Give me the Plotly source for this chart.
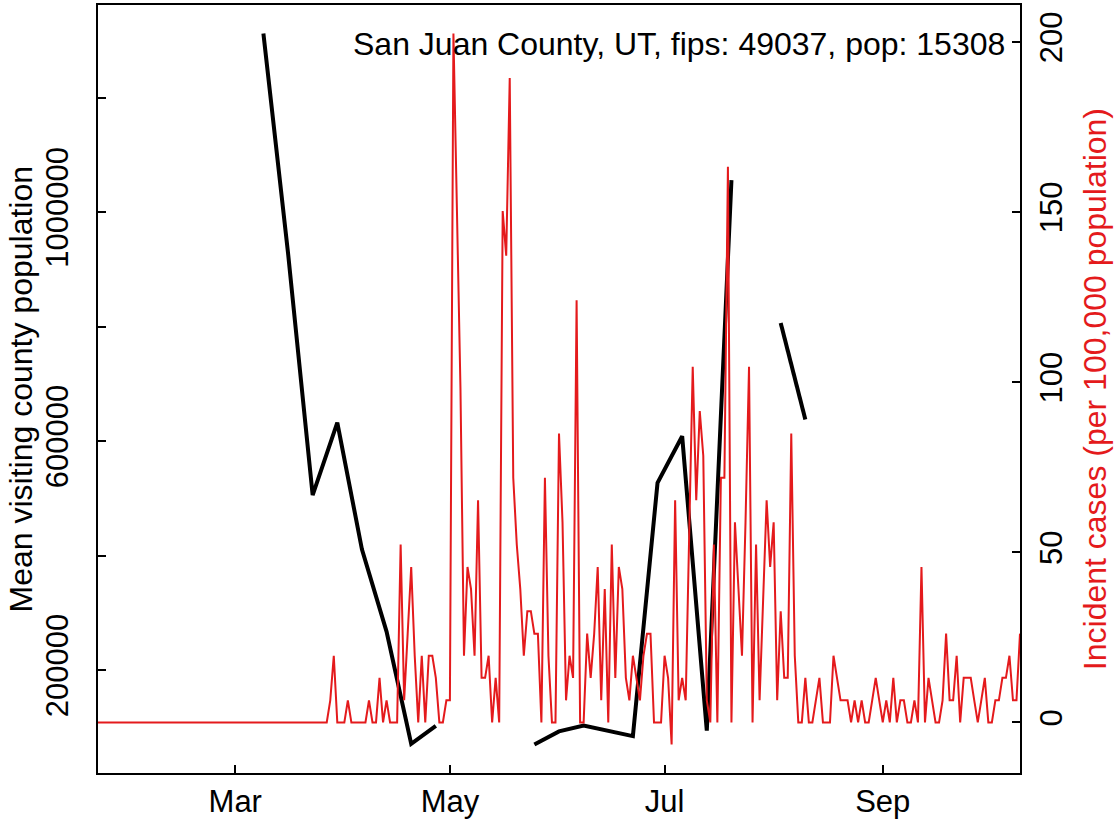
import pandas as pd
import plotly.graph_objects as go

# weekly mean visiting county population (None = missing week)
visit_dates = ['2020-03-09', '2020-03-16', '2020-03-23', '2020-03-30', '2020-04-06',
               '2020-04-13', '2020-04-20', '2020-04-27', '2020-05-04', '2020-05-11',
               '2020-05-18', '2020-05-25', '2020-06-01', '2020-06-08', '2020-06-15',
               '2020-06-22', '2020-06-29', '2020-07-06', '2020-07-13', '2020-07-20',
               '2020-07-27', '2020-08-03', '2020-08-10']
visit_pop = [1312079, 928619, 505593, 632309, 410948,
             267141, 71063, 102437, None, None,
             None, 69843, 92851, 102960, 93722,
             84484, 527184, 608430, 94303, 1055858,
             None, 806086, 637538]

# daily incident cases per 100,000 population, 2020-01-22 .. 2020-10-10
case_start = '2020-01-22'
incident = [
    0, 0, 0, 0, 0, 0, 0, 0, 0, 0, 0, 0, 0,
    0, 0, 0, 0, 0, 0, 0, 0, 0, 0, 0, 0, 0,
    0, 0, 0, 0, 0, 0, 0, 0, 0, 0, 0, 0, 0,
    0, 0, 0, 0, 0, 0, 0, 0, 0, 0, 0, 0, 0,
    0, 0, 0, 0, 0, 0, 0, 0, 0, 0, 0, 0, 0,
    0, 6.5, 19.6, 0, 0, 0, 6.5, 0, 0, 0, 0, 0, 6.5, 0,
    0, 13.1, 0, 6.5, 0, 0, 0, 52.3, 6.5, 26.1,
    45.7, 19.6, 0, 19.6, 0, 19.6, 19.6, 13.1, 0, 0,
    6.5, 6.5, 202.5, 150.3, 98.0, 19.6, 45.7, 39.2, 19.6, 65.3,
    13.1, 13.1, 19.6, 0, 13.1, 0, 150.3, 137.2, 189.4, 71.9,
    52.3, 39.2, 19.6, 32.7, 32.7, 26.1, 26.1, 0, 71.9, 19.6,
    0, 0, 84.9, 58.8, 6.5, 19.6, 13.1, 124.1, 0, 0,
    26.1, 13.1, 26.1, 45.7, 6.5, 39.2, 0, 52.3, 13.1, 45.7,
    39.2, 13.1, 6.5, 19.6, 13.1, 6.5, 19.6, 26.1, 26.1, 0,
    0, 0, 19.6, 13.1, -6.5, 65.3, 6.5, 13.1, 6.5, 58.8,
    104.5, 65.3, 91.5, 78.4, 6.5, 0, 52.3, 0, 71.9, 71.9,
    163.3, 0, 58.8, 39.2, 19.6, 58.8, 104.5, 0, 52.3, 6.5,
    39.2, 65.3, 45.7, 58.8, 6.5, 32.7, 13.1, 13.1, 84.9, 19.6,
    0, 0, 13.1, 0, 0, 6.5, 13.1, 0, 0, 0,
    19.6, 13.1, 6.5, 6.5, 6.5, 0, 6.5, 0, 6.5, 0,
    0, 6.5, 13.1, 6.5, 0, 6.5, 0, 13.1, 0, 6.5,
    6.5, 0, 0, 6.5, 0, 45.7, 0, 13.1, 6.5, 0,
    0, 6.5, 26.1, 6.5, 6.5, 19.6, 0, 13.1, 13.1, 13.1,
    6.5, 0, 6.5, 13.1, 0, 0, 6.5, 6.5, 13.1, 13.1,
    19.6, 6.5, 6.5, 26.1,
]
case_dates = pd.date_range(case_start, periods=len(incident), freq='D')

month_ticks = ['2020-03-01', '2020-05-01', '2020-07-01', '2020-09-01']
month_labels = ['Mar', 'May', 'Jul', 'Sep']
pop_ticks = [200000, 400000, 600000, 800000, 1000000, 1200000]
pop_labels = ['200000', '', '600000', '', '1000000', '']
case_ticks = [0, 50, 100, 150, 200]

title_text = 'San Juan County, UT, fips: 49037, pop: 15308'
left_title = 'Mean visiting county population'
right_title = 'Incident cases (per 100,000 population)'

RED = '#E41A1C'
FONT = 'Liberation Sans, Arial, Helvetica, sans-serif'


def padded(values, frac=0.04):
    v = [x for x in values if x is not None]
    lo, hi = min(v), max(v)
    d = (hi - lo) * frac
    return [lo - d, hi + d]


fig = go.Figure()

fig.add_trace(go.Scatter(x=case_dates, y=incident, mode='lines', yaxis='y2',
                         line=dict(color=RED, width=2), name='cases'))
fig.add_trace(go.Scatter(x=pd.to_datetime(visit_dates), y=visit_pop, mode='lines',
                         line=dict(color='black', width=4), connectgaps=False,
                         name='visiting'))

fig.add_annotation(text=title_text, xref='paper', yref='paper', x=0.986, y=0.949,
                   xanchor='right', yanchor='middle', showarrow=False,
                   font=dict(size=32, color='black', family=FONT))
# axis titles as rotated annotations so they can be placed like R's mtext
fig.add_annotation(text=left_title, xref='paper', yref='paper', x=-0.083, y=0.5,
                   xanchor='center', yanchor='middle', textangle=-90, showarrow=False,
                   font=dict(size=32, color='black', family=FONT))
fig.add_annotation(text=right_title, xref='paper', yref='paper', x=1.0815, y=0.5,
                   xanchor='center', yanchor='middle', textangle=-90, showarrow=False,
                   font=dict(size=32, color=RED, family=FONT))

axis_common = dict(showgrid=False, zeroline=False, showline=True, linecolor='black',
                   linewidth=1.5, ticks='inside', ticklen=8, tickwidth=1.5,
                   tickcolor='black', automargin=False,
                   tickfont=dict(size=31, color='black', family=FONT))

fig.update_layout(
    width=1119, height=822,
    margin=dict(l=98, r=99, t=5, b=49),
    paper_bgcolor='white', plot_bgcolor='white',
    showlegend=False,
    font=dict(family=FONT, color='black'),
    xaxis=dict(range=['2020-01-22', '2020-10-10'], tickvals=month_ticks,
               ticktext=month_labels, mirror=True, ticklabelstandoff=0, **axis_common),
    yaxis=dict(range=padded(visit_pop), tickvals=pop_ticks, ticktext=pop_labels,
               tickangle=-90, ticklabelstandoff=16, **axis_common),
    yaxis2=dict(range=padded(incident), overlaying='y', side='right',
                tickvals=case_ticks, tickangle=-90, ticklabelstandoff=3,
                **axis_common),
)

# the page body has an 8px default margin; drop it so the figure sits at 0,0
fig.write_html('out.html', config={'displayModeBar': False},
               post_script="document.body.style.margin='0px';")
